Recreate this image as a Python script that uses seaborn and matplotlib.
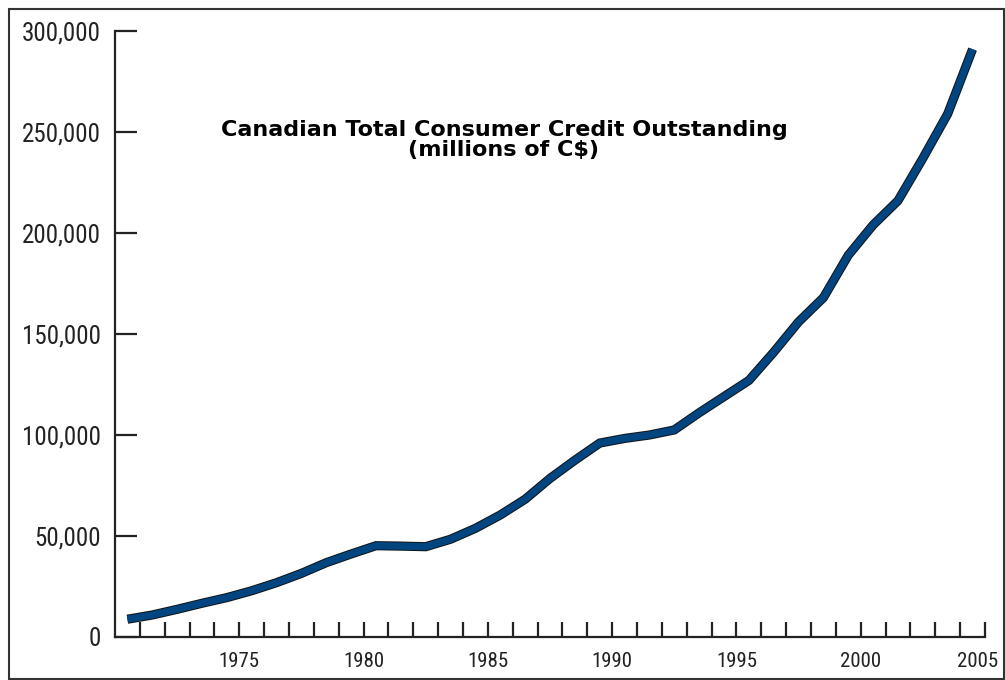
import matplotlib
matplotlib.use("Agg")
import matplotlib.pyplot as plt
import matplotlib.patheffects as pe
import matplotlib.transforms as mtransforms
from matplotlib import font_manager as fm
from matplotlib.patches import Rectangle
from matplotlib.ticker import FuncFormatter, FixedLocator
import seaborn as sns
import pandas as pd

# Data (millions of C$), annual values plotted at mid-year
years = list(range(1970, 2005))
credit = [8800, 10900, 13700, 16700, 19500, 22900, 26900, 31500, 36800, 41100,
          45200, 45000, 44700, 48400, 53800, 60400, 68200, 78500, 87500, 96000,
          98300, 100000, 102500, 111000, 119000, 127000, 141000, 156000, 168000, 189000,
          204000, 216000, 237000, 259000, 291000]
ytick_values = [0, 50000, 100000, 150000, 200000, 250000, 300000]
xtick_labels = [1975, 1980, 1985, 1990, 1995, 2000, 2005]
title_lines = ["Canadian Total Consumer Credit Outstanding", "(millions of C$)"]

df = pd.DataFrame({"year": [y + 0.5 for y in years], "credit": credit})

sns.set_style("ticks")

# pick a condensed face if one is installed
names = {f.name for f in fm.fontManager.ttflist}
stretch_pairs = {(f.name, str(f.stretch)) for f in fm.fontManager.ttflist}
tick_family, tick_stretch, ysize, xsize = "Liberation Sans", "normal", 15.5, 14
if "Roboto Condensed" in names:
    tick_family, tick_stretch, ysize, xsize = "Roboto Condensed", "normal", 18, 15
elif "Liberation Sans Narrow" in names:
    tick_family, tick_stretch, ysize, xsize = "Liberation Sans Narrow", "normal", 18, 15
elif ("DejaVu Sans", "condensed") in stretch_pairs:
    tick_family, tick_stretch, ysize, xsize = "DejaVu Sans", "condensed", 16, 14
elif "Roboto" in names:
    tick_family, tick_stretch, ysize, xsize = "Roboto", "normal", 16, 14

plt.rcParams["font.family"] = [tick_family, "DejaVu Sans"]
plt.rcParams["font.stretch"] = tick_stretch

W, H = 1005, 680
fig = plt.figure(figsize=(W / 100, H / 100), dpi=100)
ax = fig.add_axes([115 / W, 1 - 637 / H, (985 - 115) / W, (637 - 31) / H])

sns.lineplot(data=df, x="year", y="credit", ax=ax, color="#00457f",
             linewidth=5.2, solid_capstyle="butt", solid_joinstyle="miter",
             path_effects=[pe.Stroke(linewidth=6.6, foreground="#111111"), pe.Normal()])

ax.set_xlim(1970, 2005)
ax.set_ylim(0, 300000)
ax.set_xlabel("")
ax.set_ylabel("")

for s in ["top", "right"]:
    ax.spines[s].set_visible(False)
for s in ["left", "bottom"]:
    ax.spines[s].set_color("#222222")
    ax.spines[s].set_linewidth(1.6)

ax.yaxis.set_major_locator(FixedLocator(ytick_values))
ax.yaxis.set_major_formatter(FuncFormatter(lambda v, p: "0" if v == 0 else f"{int(v):,}"))
ax.tick_params(axis="y", direction="in", length=16, width=1.6, color="#222222",
               pad=10, labelsize=ysize, labelcolor="#222222")

ax.xaxis.set_major_locator(FixedLocator(xtick_labels))
ax.xaxis.set_minor_locator(FixedLocator([y for y in range(1971, 2006)]))
ax.xaxis.set_major_formatter(FuncFormatter(lambda v, p: f"{int(round(v))}"))
ax.tick_params(axis="x", which="both", direction="in", length=11, width=1.6,
               color="#222222")
ax.tick_params(axis="x", which="major", pad=11, labelsize=xsize, labelcolor="#222222")

# nudge the last year label left so it stays inside the frame (as in the reference)
last = ax.xaxis.get_major_ticks()[-1].label1
last.set_transform(last.get_transform() +
                   mtransforms.ScaledTranslation(-7 / 100, 0, fig.dpi_scale_trans))

ax.text(0.447, 0.82, title_lines[0] + "\n" + title_lines[1], transform=ax.transAxes,
        ha="center", va="center", fontsize=16, fontweight="bold",
        family=["DejaVu Sans"], fontstretch="normal", color="black", linespacing=0.95)

fig.patches.append(Rectangle((9 / W, 1 / H), (W - 10) / W, (H - 10) / H,
                             transform=fig.transFigure, fill=False,
                             edgecolor="#333333", linewidth=1.5))

fig.savefig("out.png", dpi=100)
